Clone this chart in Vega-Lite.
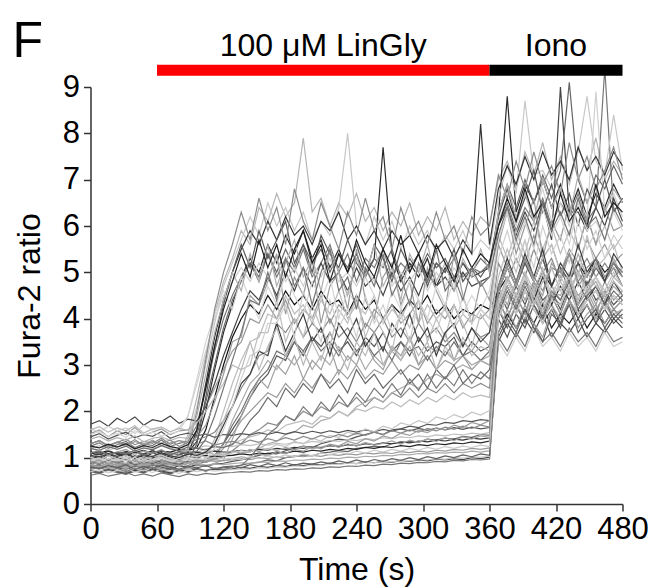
{
"$schema":"https://vega.github.io/schema/vega-lite/v6.json",
"width":532,"height":417,
"autosize":"none",
"padding":{"left":90.5,"top":87,"right":40.5,"bottom":83},
"config":{"view":{"stroke":null},"font":"Liberation Sans","text":{"font":"Liberation Sans"},
"axis":{"grid":false,"labelFontSize":31,"titleFontSize":32,"titleFontWeight":"normal","labelColor":"#000","titleColor":"#000","labelFont":"Liberation Sans","titleFont":"Liberation Sans","domainColor":"#333","tickColor":"#333","domainWidth":1.5,"tickWidth":1.5,"tickSize":7},
"axisX":{"labelPadding":3,"titlePadding":10,"labelFlush":false},
"axisY":{"labelPadding":4,"titlePadding":16}},
"title":{"text":"F","anchor":"start","frame":"group","fontSize":50,"fontWeight":"normal","color":"#000","font":"Liberation Sans","dx":-78,"offset":0,"dy":37},
"resolve":{"scale":{"color":"independent"}},
"layer":[
{"data":{"values":[
{"time":0,"a":0.82,"b":1.02,"c":1.12,"d":1.25,"e":1.52,"f":0.8,"g":1,"h":1.72,"i":0.9,"j":1.1,"k":0.75,"l":1.3,"m":0.98,"n":0.92,"o":1.62,"p":0.85,"q":0.9,"r":1,"s":0.8,"t":1.1,"u":0.7,"v":0.72,"w":0.9,"x":1,"y":0.62,"z":1.2,"A":0.85,"B":1.45,"C":0.7,"D":1.1,"E":1.3,"F":1,"G":0.9,"H":0.85,"I":1.2,"J":1.5,"K":0.8,"L":1.1,"M":0.8,"N":1,"O":1.05,"P":1.4,"Q":0.75,"R":0.95,"S":1.3,"T":1.25,"U":1.6,"V":0.9,"W":1.1,"X":0.95},
{"time":8,"a":0.78,"b":0.97,"c":1.1,"d":1.32,"e":1.6,"f":0.76,"g":1.06,"h":1.8,"i":0.86,"j":1.04,"k":0.7,"l":1.36,"m":1.03,"n":0.88,"o":1.55,"p":0.81,"q":0.85,"r":0.96,"s":0.77,"t":1.15,"u":0.66,"v":0.68,"w":0.95,"x":1.05,"y":0.66,"z":1.26,"A":0.81,"B":1.52,"C":0.74,"D":1.06,"E":1.36,"F":0.95,"G":0.86,"H":0.89,"I":1.16,"J":1.56,"K":0.84,"L":1.16,"M":0.76,"N":1.05,"O":1.01,"P":1.46,"Q":0.79,"R":0.91,"S":1.37,"T":1.21,"U":1.67,"V":0.94,"W":1.14,"X":0.99},
{"time":16,"a":0.86,"b":1.08,"c":1.15,"d":1.2,"e":1.45,"f":0.84,"g":0.95,"h":1.68,"i":0.94,"j":1.14,"k":0.79,"l":1.25,"m":0.95,"n":0.95,"o":1.68,"p":0.89,"q":0.93,"r":1.04,"s":0.83,"t":1.06,"u":0.73,"v":0.75,"w":0.87,"x":0.97,"y":0.6,"z":1.16,"A":0.88,"B":1.4,"C":0.67,"D":1.14,"E":1.27,"F":1.04,"G":0.93,"H":0.82,"I":1.24,"J":1.46,"K":0.77,"L":1.05,"M":0.83,"N":0.96,"O":1.09,"P":1.36,"Q":0.72,"R":0.99,"S":1.25,"T":1.29,"U":1.55,"V":0.86,"W":1.06,"X":0.91},
{"time":24,"a":0.8,"b":1,"c":1.08,"d":1.28,"e":1.58,"f":0.79,"g":1.03,"h":1.85,"i":0.88,"j":1.07,"k":0.73,"l":1.33,"m":1.01,"n":0.9,"o":1.58,"p":0.84,"q":0.88,"r":0.98,"s":0.79,"t":1.12,"u":0.68,"v":0.7,"w":0.92,"x":1.02,"y":0.64,"z":1.23,"A":0.83,"B":1.48,"C":0.72,"D":1.08,"E":1.33,"F":0.98,"G":0.88,"H":0.87,"I":1.18,"J":1.53,"K":0.82,"L":1.12,"M":0.78,"N":1.03,"O":1.03,"P":1.43,"Q":0.77,"R":0.93,"S":1.34,"T":1.23,"U":1.64,"V":0.92,"W":1.12,"X":0.97},
{"time":32,"a":0.75,"b":0.94,"c":1.13,"d":1.35,"e":1.5,"f":0.73,"g":0.98,"h":1.75,"i":0.83,"j":1.12,"k":0.68,"l":1.4,"m":0.97,"n":0.86,"o":1.64,"p":0.79,"q":0.84,"r":0.94,"s":0.75,"t":1.17,"u":0.64,"v":0.66,"w":0.97,"x":1.07,"y":0.68,"z":1.28,"A":0.79,"B":1.55,"C":0.76,"D":1.04,"E":1.24,"F":1.06,"G":0.95,"H":0.8,"I":1.25,"J":1.44,"K":0.75,"L":1.18,"M":0.85,"N":0.98,"O":1.1,"P":1.38,"Q":0.7,"R":1,"S":1.28,"T":1.3,"U":1.58,"V":0.88,"W":1.08,"X":0.93},
{"time":40,"a":0.84,"b":1.05,"c":1.11,"d":1.22,"e":1.65,"f":0.82,"g":1.08,"h":1.88,"i":0.92,"j":1.02,"k":0.77,"l":1.28,"m":1.05,"n":0.94,"o":1.52,"p":0.87,"q":0.91,"r":1.03,"s":0.82,"t":1.08,"u":0.71,"v":0.73,"w":0.89,"x":0.99,"y":0.61,"z":1.18,"A":0.86,"B":1.43,"C":0.69,"D":1.12,"E":1.35,"F":0.94,"G":0.84,"H":0.88,"I":1.14,"J":1.58,"K":0.83,"L":1.07,"M":0.74,"N":1.07,"O":0.99,"P":1.47,"Q":0.78,"R":0.89,"S":1.39,"T":1.19,"U":1.69,"V":0.96,"W":1.16,"X":1.01},
{"time":48,"a":0.79,"b":0.99,"c":1.16,"d":1.3,"e":1.48,"f":0.77,"g":0.96,"h":1.7,"i":0.87,"j":1.09,"k":0.72,"l":1.35,"m":0.93,"n":0.89,"o":1.7,"p":0.82,"q":0.87,"r":0.97,"s":0.78,"t":1.14,"u":0.67,"v":0.69,"w":0.94,"x":1.04,"y":0.65,"z":1.25,"A":0.82,"B":1.5,"C":0.73,"D":1.07,"E":1.29,"F":1.02,"G":0.91,"H":0.84,"I":1.21,"J":1.49,"K":0.79,"L":1.14,"M":0.81,"N":0.95,"O":1.06,"P":1.34,"Q":0.74,"R":0.96,"S":1.26,"T":1.26,"U":1.53,"V":0.85,"W":1.05,"X":0.9},
{"time":56,"a":0.88,"b":1.1,"c":1.09,"d":1.26,"e":1.55,"f":0.85,"g":1.04,"h":1.82,"i":0.95,"j":1.15,"k":0.8,"l":1.31,"m":1,"n":0.97,"o":1.6,"p":0.9,"q":0.94,"r":1.05,"s":0.84,"t":1.1,"u":0.74,"v":0.76,"w":0.88,"x":0.98,"y":0.6,"z":1.19,"A":0.89,"B":1.46,"C":0.68,"D":1.15,"E":1.38,"F":0.97,"G":0.87,"H":0.9,"I":1.17,"J":1.55,"K":0.85,"L":1.09,"M":0.77,"N":1.02,"O":1.02,"P":1.42,"Q":0.8,"R":0.92,"S":1.35,"T":1.22,"U":1.62,"V":0.91,"W":1.11,"X":0.96},
{"time":64,"a":0.83,"b":1.03,"c":1.14,"d":1.38,"e":1.62,"f":0.8,"g":1.01,"h":1.78,"i":0.89,"j":1.06,"k":0.74,"l":1.42,"m":1.04,"n":0.91,"o":1.66,"p":0.86,"q":0.89,"r":1,"s":0.8,"t":1.18,"u":0.69,"v":0.71,"w":0.96,"x":1.06,"y":0.67,"z":1.27,"A":0.84,"B":1.56,"C":0.75,"D":1.09,"E":1.26,"F":1.05,"G":0.94,"H":0.81,"I":1.26,"J":1.47,"K":0.76,"L":1.17,"M":0.84,"N":1.06,"O":1.11,"P":1.45,"Q":0.71,"R":1.01,"S":1.31,"T":1.31,"U":1.66,"V":0.95,"W":1.15,"X":1},
{"time":72,"a":0.9,"b":0.96,"c":1.12,"d":1.24,"e":1.5,"f":0.74,"g":0.97,"h":1.9,"i":0.84,"j":1.11,"k":0.69,"l":1.29,"m":0.96,"n":0.87,"o":1.56,"p":0.8,"q":0.85,"r":0.95,"s":0.76,"t":1.07,"u":0.65,"v":0.67,"w":0.91,"x":1.01,"y":0.63,"z":1.21,"A":0.8,"B":1.42,"C":0.71,"D":1.05,"E":1.32,"F":0.99,"G":0.89,"H":0.86,"I":1.19,"J":1.52,"K":0.81,"L":1.04,"M":0.79,"N":0.97,"O":1.04,"P":1.37,"Q":0.76,"R":0.94,"S":1.38,"T":1.24,"U":1.56,"V":0.87,"W":1.07,"X":0.92},
{"time":80,"a":1.05,"b":1.07,"c":1.18,"d":1.31,"e":1.58,"f":0.83,"g":1.09,"h":1.74,"i":0.93,"j":1.05,"k":0.78,"l":1.37,"m":1.02,"n":0.95,"o":1.65,"p":0.88,"q":0.92,"r":1.02,"s":0.83,"t":1.13,"u":0.72,"v":0.74,"w":0.86,"x":0.96,"y":0.59,"z":1.15,"A":0.87,"B":1.49,"C":0.66,"D":1.13,"E":1.37,"F":0.93,"G":0.85,"H":0.83,"I":1.15,"J":1.57,"K":0.86,"L":1.11,"M":0.75,"N":1.04,"O":1,"P":1.44,"Q":0.73,"R":0.9,"S":1.24,"T":1.2,"U":1.63,"V":0.93,"W":1.13,"X":0.98},
{"time":88,"a":1.5,"b":1.12,"c":1.15,"d":1.36,"e":1.6,"f":0.78,"g":1.4,"h":1.83,"i":0.88,"j":1.13,"k":0.73,"l":1.33,"m":1.07,"n":0.9,"o":1.9,"p":0.83,"q":0.88,"r":0.98,"s":0.79,"t":1.16,"u":0.68,"v":0.7,"w":0.93,"x":1.03,"y":0.65,"z":1.24,"A":0.83,"B":1.53,"C":0.73,"D":1.08,"E":1.28,"F":1.03,"G":0.92,"H":0.89,"I":1.23,"J":1.9,"K":1.2,"L":1.15,"M":0.82,"N":0.99,"O":1.08,"P":1.41,"Q":0.79,"R":0.98,"S":1.33,"T":1.28,"U":1.59,"V":0.89,"W":1.09,"X":0.94},
{"time":96,"a":2.3,"b":1.35,"c":1.22,"d":1.7,"e":1.8,"f":0.86,"g":2.1,"h":1.79,"i":0.96,"j":1.5,"k":0.81,"l":1.39,"m":1.6,"n":0.98,"o":2.6,"p":0.91,"q":0.95,"r":1.06,"s":0.85,"t":1.11,"u":0.75,"v":0.77,"w":0.9,"x":1,"y":0.62,"z":1.2,"A":0.88,"B":1.47,"C":0.7,"D":1.12,"E":1.45,"F":1.01,"G":1.3,"H":0.85,"I":1.2,"J":2.7,"K":2,"L":1.08,"M":0.78,"N":1.05,"O":1.05,"P":1.9,"Q":0.75,"R":0.95,"S":1.29,"T":1.6,"U":1.75,"V":0.94,"W":1.14,"X":0.99},
{"time":104,"a":3.2,"b":2,"c":1.6,"d":2.5,"e":2.1,"f":0.92,"g":3,"h":2.1,"i":0.91,"j":2.2,"k":1,"l":1.45,"m":2.6,"n":0.93,"o":3.3,"p":0.96,"q":0.9,"r":1.01,"s":0.81,"t":1.19,"u":0.71,"v":0.72,"w":0.95,"x":1.05,"y":0.66,"z":1.26,"A":0.84,"B":1.51,"C":0.74,"D":1.1,"E":1.7,"F":1.1,"G":2.3,"H":0.82,"I":1.17,"J":3.5,"K":3.1,"L":1.13,"M":0.83,"N":1.01,"O":1.12,"P":2.8,"Q":0.72,"R":0.97,"S":1.36,"T":2.5,"U":2,"V":0.9,"W":1.4,"X":0.95},
{"time":112,"a":4.1,"b":2.9,"c":2.3,"d":3.3,"e":2.5,"f":1.05,"g":3.9,"h":2.6,"i":0.99,"j":3,"k":1.4,"l":1.55,"m":3.6,"n":1,"o":4,"p":1.05,"q":0.97,"r":1.04,"s":0.86,"t":1.15,"u":0.76,"v":0.75,"w":0.92,"x":1.02,"y":0.64,"z":1.22,"A":0.86,"B":1.44,"C":0.71,"D":1.14,"E":2.2,"F":1.3,"G":3.4,"H":0.88,"I":1.24,"J":4.1,"K":4.2,"L":1.06,"M":0.76,"N":1.08,"O":1.3,"P":3.7,"Q":0.78,"R":1.2,"S":1.27,"T":3.4,"U":2.3,"V":0.96,"W":1.9,"X":1.01},
{"time":120,"a":4.8,"b":3.7,"c":3,"d":4,"e":2.9,"f":1.3,"g":4.7,"h":3.2,"i":1.3,"j":3.8,"k":2,"l":1.8,"m":4.4,"n":1.2,"o":4.5,"p":1.3,"q":1.02,"r":1.08,"s":0.88,"t":1.22,"u":0.78,"v":0.74,"w":0.94,"x":1.04,"y":0.67,"z":1.25,"A":0.85,"B":1.5,"C":0.73,"D":1.12,"E":2.8,"F":1.8,"G":4.3,"H":0.95,"I":1.22,"J":4.6,"K":5,"L":1.12,"M":0.8,"N":1.04,"O":1.7,"P":4.4,"Q":0.74,"R":1.6,"S":1.32,"T":4.2,"U":2.6,"V":0.93,"W":2.5,"X":0.97},
{"time":128,"a":5.3,"b":4.3,"c":3.6,"d":4.5,"e":3.3,"f":1.6,"g":5.2,"h":3.7,"i":1.8,"j":4.4,"k":2.6,"l":2.1,"m":5,"n":1.5,"o":4.8,"p":1.7,"q":1.15,"r":1.05,"s":0.92,"t":1.3,"u":0.8,"v":0.76,"w":0.95,"x":1.05,"y":0.68,"z":1.24,"A":0.87,"B":1.48,"C":0.74,"D":1.13,"E":3.5,"F":2.3,"G":5,"H":1.4,"I":1.28,"J":4.2,"K":5.6,"L":1.14,"M":0.82,"N":1.1,"O":2.1,"P":5,"Q":0.8,"R":2.1,"S":1.35,"T":4.8,"U":3,"V":0.98,"W":3.1,"X":0.99},
{"time":136,"a":5.9,"b":4.9,"c":4,"d":4.9,"e":3.5,"f":1.9,"g":5.7,"h":4.2,"i":2.2,"j":4.8,"k":3.1,"l":2.5,"m":5.5,"n":1.8,"o":5.1,"p":2,"q":1.3,"r":1.1,"s":0.95,"t":1.38,"u":0.84,"v":0.79,"w":0.98,"x":1.08,"y":0.7,"z":1.28,"A":0.89,"B":1.52,"C":0.76,"D":1.16,"E":3.6,"F":2.9,"G":5.6,"H":1.9,"I":1.5,"J":4.9,"K":6.3,"L":1.1,"M":0.78,"N":1.15,"O":2.6,"P":4.6,"Q":0.83,"R":2.7,"S":1.3,"T":5.4,"U":2.9,"V":1.02,"W":3.7,"X":0.96},
{"time":144,"a":5.6,"b":5.3,"c":4.3,"d":5.2,"e":4,"f":2.3,"g":6.2,"h":4.6,"i":2.6,"j":5.2,"k":3.5,"l":2.8,"m":5.9,"n":2,"o":4.8,"p":2.4,"q":1.5,"r":1.12,"s":1,"t":1.45,"u":0.88,"v":0.77,"w":0.96,"x":1.06,"y":0.69,"z":1.26,"A":0.88,"B":1.49,"C":0.75,"D":1.14,"E":4.5,"F":3,"G":5.1,"H":2.3,"I":1.8,"J":4.4,"K":5.7,"L":1.18,"M":0.85,"N":1.12,"O":2.8,"P":5.4,"Q":1,"R":3.2,"S":1.38,"T":4.9,"U":3.5,"V":0.99,"W":4.4,"X":1.02},
{"time":152,"a":6.4,"b":5,"c":4.1,"d":4.8,"e":3.9,"f":2.6,"g":5.8,"h":4.4,"i":2.8,"j":4.9,"k":3.6,"l":3.2,"m":5.6,"n":2.2,"o":5.2,"p":2.7,"q":1.6,"r":1.2,"s":1.05,"t":1.5,"u":0.9,"v":0.81,"w":1,"x":1.1,"y":0.72,"z":1.3,"A":0.91,"B":1.54,"C":0.78,"D":1.18,"E":4.3,"F":3.7,"G":5.9,"H":2.7,"I":2,"J":4,"K":6.6,"L":1.13,"M":0.81,"N":1.22,"O":3.3,"P":4.8,"Q":1.25,"R":3.3,"S":1.33,"T":5.7,"U":2.9,"V":1.08,"W":4.3,"X":0.98},
{"time":160,"a":6.1,"b":5.6,"c":4.5,"d":5.4,"e":4.3,"f":2.8,"g":6.5,"h":4.9,"i":3.1,"j":5.4,"k":4.1,"l":3.3,"m":6.1,"n":2.4,"o":4.9,"p":2.9,"q":1.75,"r":1.3,"s":1.1,"t":1.6,"u":0.95,"v":0.79,"w":0.98,"x":1.08,"y":0.71,"z":1.27,"A":0.9,"B":1.5,"C":0.77,"D":1.16,"E":4.8,"F":3.7,"G":5.3,"H":2.5,"I":2.3,"J":4.7,"K":5.9,"L":1.2,"M":0.87,"N":1.18,"O":3.2,"P":5.6,"Q":1.5,"R":3.9,"S":1.41,"T":5.1,"U":3.4,"V":1.04,"W":5,"X":1.04},
{"time":168,"a":6.7,"b":5.2,"c":4.2,"d":4.9,"e":4,"f":3.2,"g":6,"h":4.5,"i":2.9,"j":5,"k":4,"l":3.9,"m":5.7,"n":2.3,"o":5.3,"p":3.3,"q":1.7,"r":1.35,"s":1.08,"t":1.55,"u":0.93,"v":0.83,"w":1.02,"x":1.12,"y":0.74,"z":1.31,"A":0.93,"B":1.55,"C":0.8,"D":1.2,"E":5.4,"F":4.4,"G":5.7,"H":3,"I":2.1,"J":4.3,"K":6.4,"L":1.15,"M":0.83,"N":1.28,"O":3.9,"P":4.7,"Q":1.65,"R":3.9,"S":1.36,"T":5.6,"U":3.8,"V":1.13,"W":4.4,"X":1},
{"time":176,"a":6.2,"b":5.8,"c":4.6,"d":5.3,"e":4.4,"f":3.1,"g":6.4,"h":5,"i":3.2,"j":5.5,"k":4.5,"l":3.7,"m":6.2,"n":2.6,"o":4.8,"p":3.2,"q":1.9,"r":1.5,"s":1.15,"t":1.7,"u":1,"v":0.81,"w":1,"x":1.1,"y":0.73,"z":1.29,"A":0.92,"B":1.51,"C":0.79,"D":1.18,"E":4.1,"F":3.5,"G":6.1,"H":2.8,"I":2.5,"J":5,"K":5.6,"L":1.22,"M":0.89,"N":1.24,"O":3.3,"P":5.2,"Q":1.9,"R":4.3,"S":1.43,"T":4.9,"U":3.2,"V":1.09,"W":5.3,"X":1.06},
{"time":184,"a":6.5,"b":5.4,"c":4.3,"d":5,"e":3.9,"f":3.5,"g":5.9,"h":4.6,"i":3,"j":5.1,"k":4.1,"l":4,"m":5.8,"n":2.4,"o":5.1,"p":3.5,"q":1.8,"r":1.55,"s":1.2,"t":1.75,"u":1.02,"v":0.85,"w":1.04,"x":1.14,"y":0.76,"z":1.33,"A":0.95,"B":1.56,"C":0.82,"D":1.22,"E":4.9,"F":4,"G":5.2,"H":3.2,"I":2.3,"J":4.5,"K":6.8,"L":1.17,"M":0.84,"N":1.35,"O":3.7,"P":5.7,"Q":1.8,"R":3.6,"S":1.38,"T":5.5,"U":3.6,"V":1.18,"W":4.7,"X":1.02},
{"time":192,"a":7.9,"b":5.9,"c":4.5,"d":5.5,"e":4.2,"f":3.2,"g":6.3,"h":5.1,"i":3.3,"j":5.6,"k":4.3,"l":3.6,"m":6,"n":2.7,"o":4.7,"p":3.3,"q":2,"r":1.7,"s":1.25,"t":1.8,"u":1.06,"v":0.83,"w":1.02,"x":1.12,"y":0.75,"z":1.31,"A":0.94,"B":1.52,"C":0.81,"D":1.2,"E":4.5,"F":3.6,"G":5.6,"H":2.7,"I":2.6,"J":4.1,"K":6.1,"L":1.25,"M":0.88,"N":1.3,"O":4.1,"P":4.9,"Q":2.1,"R":4.6,"S":1.46,"T":5.9,"U":3,"V":1.14,"W":5.1,"X":1.08},
{"time":200,"a":6.3,"b":5.3,"c":4.2,"d":4.9,"e":4,"f":3.6,"g":5.7,"h":4.7,"i":2.9,"j":5.2,"k":3.9,"l":3.9,"m":5.6,"n":2.5,"o":5.2,"p":3.6,"q":1.9,"r":1.65,"s":1.22,"t":1.72,"u":1.04,"v":0.86,"w":1.05,"x":1.16,"y":0.78,"z":1.35,"A":0.97,"B":1.57,"C":0.84,"D":1.24,"E":5.3,"F":4.3,"G":5,"H":3.1,"I":2.4,"J":4.8,"K":5.7,"L":1.19,"M":0.86,"N":1.42,"O":3.5,"P":5.3,"Q":1.9,"R":4,"S":1.4,"T":5.2,"U":3.5,"V":1.24,"W":4.3,"X":1.04},
{"time":208,"a":6.6,"b":5.7,"c":4.6,"d":5.2,"e":4.5,"f":3.4,"g":6.1,"h":5.2,"i":3.2,"j":5.5,"k":4.4,"l":3.7,"m":6.1,"n":2.8,"o":4.9,"p":3.3,"q":2.1,"r":1.8,"s":1.3,"t":1.9,"u":1.1,"v":0.84,"w":1.03,"x":1.14,"y":0.77,"z":1.33,"A":0.96,"B":1.53,"C":0.83,"D":1.22,"E":3.9,"F":3.8,"G":5.8,"H":2.9,"I":2.8,"J":4.4,"K":6.5,"L":1.23,"M":0.91,"N":1.36,"O":3.8,"P":4.6,"Q":2.2,"R":3.5,"S":1.48,"T":5.6,"U":3.1,"V":1.19,"W":5,"X":1.1},
{"time":216,"a":6,"b":5.1,"c":4.3,"d":5.6,"e":3.9,"f":3.7,"g":5.8,"h":4.8,"i":3,"j":5,"k":4.1,"l":4,"m":5.9,"n":2.6,"o":5.3,"p":3.5,"q":2,"r":1.85,"s":1.35,"t":1.85,"u":1.12,"v":0.88,"w":1.07,"x":1.18,"y":0.8,"z":1.37,"A":0.99,"B":1.58,"C":0.86,"D":1.26,"E":4.7,"F":3.4,"G":5.4,"H":3.4,"I":2.5,"J":4.9,"K":6,"L":1.28,"M":0.87,"N":1.48,"O":3.2,"P":5.5,"Q":2,"R":4.4,"S":1.43,"T":4.8,"U":3.7,"V":1.29,"W":5.5,"X":1.06},
{"time":224,"a":6.5,"b":5.5,"c":4.4,"d":5,"e":4.3,"f":3.3,"g":6.4,"h":5,"i":3.4,"j":5.4,"k":4.6,"l":3.6,"m":6.3,"n":2.9,"o":4.8,"p":3.2,"q":2.2,"r":2,"s":1.4,"t":2,"u":1.15,"v":0.86,"w":1.05,"x":1.16,"y":0.79,"z":1.35,"A":0.98,"B":1.54,"C":0.85,"D":1.24,"E":5,"F":4.2,"G":5.1,"H":2.8,"I":2.7,"J":4,"K":5.5,"L":1.22,"M":0.93,"N":1.44,"O":3.9,"P":5,"Q":2.35,"R":3.8,"S":1.5,"T":5.4,"U":3.3,"V":1.25,"W":4.6,"X":1.12},
{"time":232,"a":6.2,"b":5,"c":4.1,"d":5.4,"e":4.1,"f":3.5,"g":8,"h":4.6,"i":3.1,"j":5.1,"k":4,"l":3.8,"m":5.7,"n":2.7,"o":5,"p":3.6,"q":2.1,"r":1.9,"s":1.38,"t":1.9,"u":1.13,"v":0.89,"w":1.08,"x":1.2,"y":0.82,"z":1.39,"A":1.01,"B":1.59,"C":0.88,"D":1.28,"E":4.2,"F":3.9,"G":5.7,"H":3.2,"I":2.4,"J":4.6,"K":6.3,"L":1.3,"M":0.89,"N":1.55,"O":3.6,"P":4.5,"Q":2.1,"R":4.2,"S":1.45,"T":5,"U":2.9,"V":1.35,"W":4.9,"X":1.08},
{"time":240,"a":6.7,"b":5.4,"c":4.5,"d":4.8,"e":4.4,"f":3.2,"g":6,"h":5.1,"i":3.3,"j":5.6,"k":4.3,"l":3.5,"m":6,"n":3,"o":4.7,"p":3.3,"q":2.3,"r":2.1,"s":1.45,"t":2.05,"u":1.2,"v":0.87,"w":1.06,"x":1.18,"y":0.81,"z":1.37,"A":1,"B":1.55,"C":0.87,"D":1.26,"E":5.5,"F":4.5,"G":5.2,"H":3,"I":2.9,"J":4.3,"K":5.8,"L":1.25,"M":0.95,"N":1.5,"O":4,"P":5.3,"Q":2.4,"R":3.6,"S":1.53,"T":5.7,"U":3.5,"V":1.3,"W":4.2,"X":1.14},
{"time":248,"a":6.1,"b":4.9,"c":4.2,"d":5.3,"e":3.8,"f":3.6,"g":5.6,"h":4.7,"i":2.9,"j":5,"k":4.1,"l":3.9,"m":5.6,"n":2.7,"o":5.1,"p":3.5,"q":2.1,"r":2.2,"s":1.5,"t":2,"u":1.22,"v":0.91,"w":1.1,"x":1.22,"y":0.84,"z":1.41,"A":1.03,"B":1.6,"C":0.9,"D":1.3,"E":4.4,"F":3.6,"G":4.9,"H":3.5,"I":2.6,"J":4.9,"K":6.6,"L":1.33,"M":0.9,"N":1.62,"O":3.4,"P":4.9,"Q":2.2,"R":4.5,"S":1.48,"T":5.2,"U":3.2,"V":1.41,"W":5.1,"X":1.1},
{"time":256,"a":6.4,"b":5.3,"c":4.4,"d":5.1,"e":4.2,"f":3.4,"g":6.2,"h":4.9,"i":3.2,"j":5.3,"k":4.5,"l":3.7,"m":5.9,"n":2.9,"o":4.8,"p":3.2,"q":2.3,"r":2.3,"s":1.55,"t":2.1,"u":1.25,"v":0.89,"w":1.08,"x":1.2,"y":0.83,"z":1.39,"A":1.02,"B":1.56,"C":0.89,"D":1.28,"E":4,"F":4.1,"G":5.6,"H":3.1,"I":2.8,"J":4.5,"K":5.9,"L":1.27,"M":0.96,"N":1.56,"O":3.7,"P":5.6,"Q":2.5,"R":3.9,"S":1.55,"T":4.9,"U":3.7,"V":1.36,"W":4.7,"X":1.16},
{"time":264,"a":5.9,"b":7.7,"c":4,"d":5.5,"e":4,"f":3.7,"g":5.7,"h":4.5,"i":3,"j":5.1,"k":3.9,"l":4,"m":5.5,"n":2.8,"o":5.2,"p":3.4,"q":2.2,"r":2.2,"s":1.5,"t":2.05,"u":1.23,"v":0.92,"w":1.11,"x":1.24,"y":0.86,"z":1.43,"A":1.05,"B":1.61,"C":0.92,"D":1.32,"E":4.9,"F":3.7,"G":5.3,"H":2.9,"I":2.5,"J":3.9,"K":6.2,"L":1.31,"M":0.92,"N":1.68,"O":3.3,"P":4.7,"Q":2.3,"R":4.3,"S":1.5,"T":5.5,"U":3,"V":1.47,"W":5.4,"X":1.12},
{"time":272,"a":6.3,"b":5.4,"c":4.3,"d":4.9,"e":4.3,"f":3.3,"g":6.1,"h":5,"i":3.3,"j":5.5,"k":4.2,"l":3.6,"m":5.9,"n":3.1,"o":4.7,"p":3.1,"q":2.4,"r":2.4,"s":1.6,"t":2.2,"u":1.3,"v":0.9,"w":1.09,"x":1.22,"y":0.85,"z":1.41,"A":1.04,"B":1.57,"C":0.91,"D":1.3,"E":5.2,"F":3.3,"G":4.8,"H":3.4,"I":2.7,"J":4.6,"K":5.5,"L":1.36,"M":0.98,"N":1.62,"O":3.9,"P":5.1,"Q":2.6,"R":3.7,"S":1.58,"T":5.1,"U":3.4,"V":1.42,"W":4.5,"X":1.18},
{"time":280,"a":6,"b":4.8,"c":4.1,"d":5.2,"e":3.9,"f":3.5,"g":5.5,"h":4.6,"i":3.1,"j":4.9,"k":4,"l":3.8,"m":5.6,"n":2.8,"o":5,"p":3.5,"q":2.3,"r":2.5,"s":1.62,"t":2.1,"u":1.32,"v":0.94,"w":1.13,"x":1.26,"y":0.88,"z":1.45,"A":1.07,"B":1.62,"C":0.94,"D":1.34,"E":4.3,"F":4.2,"G":5.5,"H":3.2,"I":2.9,"J":4.2,"K":6.4,"L":1.29,"M":0.94,"N":1.75,"O":3.6,"P":4.4,"Q":2.35,"R":4.1,"S":1.53,"T":5.8,"U":3.1,"V":1.53,"W":4.9,"X":1.14},
{"time":288,"a":6.5,"b":5.2,"c":4.4,"d":5,"e":4.1,"f":3.2,"g":6,"h":4.9,"i":3.4,"j":5.3,"k":4.4,"l":3.5,"m":5.8,"n":3,"o":4.8,"p":3.3,"q":2.5,"r":2.6,"s":1.68,"t":2.25,"u":1.35,"v":0.92,"w":1.11,"x":1.24,"y":0.87,"z":1.43,"A":1.06,"B":1.58,"C":0.93,"D":1.32,"E":4.8,"F":3.8,"G":5.1,"H":3.6,"I":2.6,"J":4.8,"K":5.8,"L":1.38,"M":1,"N":1.7,"O":4.1,"P":5.4,"Q":2.7,"R":3.5,"S":1.6,"T":5,"U":3.6,"V":1.48,"W":4.3,"X":1.2},
{"time":296,"a":5.8,"b":4.9,"c":4.2,"d":5.4,"e":4.4,"f":3.6,"g":5.6,"h":4.5,"i":3,"j":5,"k":3.9,"l":3.9,"m":5.4,"n":2.9,"o":5.1,"p":3.4,"q":2.3,"r":2.5,"s":1.65,"t":2.15,"u":1.33,"v":0.95,"w":1.14,"x":1.28,"y":0.9,"z":1.47,"A":1.09,"B":1.63,"C":0.96,"D":1.36,"E":3.9,"F":4.4,"G":5.4,"H":3,"I":2.8,"J":4.4,"K":6.1,"L":1.33,"M":0.96,"N":1.8,"O":3.5,"P":5,"Q":2.45,"R":4.4,"S":1.55,"T":5.4,"U":3.2,"V":1.59,"W":5.2,"X":1.16},
{"time":304,"a":6.2,"b":5.3,"c":4.5,"d":4.8,"e":3.9,"f":3.3,"g":5.9,"h":5,"i":3.2,"j":5.4,"k":4.3,"l":3.6,"m":5.8,"n":3.2,"o":4.6,"p":3.1,"q":2.5,"r":2.7,"s":1.72,"t":2.3,"u":1.4,"v":0.93,"w":1.12,"x":1.26,"y":0.89,"z":1.45,"A":1.08,"B":1.59,"C":0.95,"D":1.34,"E":5.1,"F":3.5,"G":4.7,"H":3.4,"I":2.5,"J":4,"K":5.6,"L":1.4,"M":1.02,"N":1.74,"O":3.8,"P":5.6,"Q":2.8,"R":4,"S":1.63,"T":4.9,"U":3.5,"V":1.54,"W":4.8,"X":1.22},
{"time":312,"a":5.9,"b":4.7,"c":4.1,"d":5.2,"e":4.2,"f":3.5,"g":5.4,"h":4.7,"i":2.9,"j":5.1,"k":4,"l":3.8,"m":5.5,"n":2.9,"o":5,"p":3.4,"q":2.4,"r":2.8,"s":1.7,"t":2.2,"u":1.38,"v":0.97,"w":1.16,"x":1.3,"y":0.92,"z":1.49,"A":1.11,"B":1.64,"C":0.98,"D":1.38,"E":4.6,"F":4,"G":5.2,"H":3.3,"I":2.9,"J":4.7,"K":6.3,"L":1.35,"M":0.98,"N":1.88,"O":3.2,"P":4.8,"Q":2.5,"R":3.7,"S":1.58,"T":5.6,"U":2.9,"V":1.64,"W":5.5,"X":1.18},
{"time":320,"a":6.4,"b":5.1,"c":4.3,"d":5,"e":4,"f":3.4,"g":5.8,"h":4.9,"i":3.3,"j":5.3,"k":4.2,"l":3.5,"m":5.7,"n":3.1,"o":4.7,"p":3.2,"q":2.6,"r":2.7,"s":1.76,"t":2.35,"u":1.42,"v":0.95,"w":1.14,"x":1.28,"y":0.91,"z":1.47,"A":1.1,"B":1.6,"C":0.97,"D":1.36,"E":4.2,"F":3.6,"G":5,"H":3.7,"I":2.7,"J":4.3,"K":5.7,"L":1.43,"M":1.04,"N":1.82,"O":3.7,"P":5.2,"Q":2.75,"R":4.3,"S":1.66,"T":5.2,"U":3.4,"V":1.6,"W":4.6,"X":1.24},
{"time":328,"a":5.7,"b":4.8,"c":4,"d":5.3,"e":4.3,"f":3.6,"g":5.5,"h":4.6,"i":3.1,"j":4.9,"k":3.8,"l":3.7,"m":5.3,"n":3,"o":5.1,"p":3.5,"q":2.4,"r":2.9,"s":1.74,"t":2.25,"u":1.4,"v":0.98,"w":1.18,"x":1.32,"y":0.94,"z":1.51,"A":1.12,"B":1.65,"C":1,"D":1.4,"E":5.4,"F":4.3,"G":5.5,"H":3.1,"I":3,"J":4.8,"K":6,"L":1.37,"M":1,"N":1.93,"O":3.9,"P":4.6,"Q":2.55,"R":3.8,"S":1.61,"T":4.8,"U":3.1,"V":1.7,"W":4.9,"X":1.2},
{"time":336,"a":6.1,"b":5.2,"c":4.2,"d":4.9,"e":3.8,"f":3.2,"g":5.9,"h":5,"i":3.2,"j":5.2,"k":4.1,"l":3.4,"m":5.7,"n":3.2,"o":4.8,"p":3.2,"q":2.6,"r":3,"s":1.8,"t":2.4,"u":1.46,"v":0.96,"w":1.16,"x":1.3,"y":0.93,"z":1.49,"A":1.11,"B":1.61,"C":0.99,"D":1.38,"E":4.5,"F":3.9,"G":4.8,"H":3.5,"I":2.6,"J":4.1,"K":5.4,"L":1.45,"M":1.06,"N":1.86,"O":3.4,"P":5.3,"Q":2.9,"R":4.5,"S":1.68,"T":5.5,"U":3.6,"V":1.65,"W":4.4,"X":1.25},
{"time":344,"a":5.8,"b":4.9,"c":4.1,"d":5.1,"e":4.1,"f":3.5,"g":5.4,"h":4.7,"i":3,"j":5,"k":3.9,"l":3.8,"m":5.4,"n":2.9,"o":5,"p":3.3,"q":2.5,"r":2.9,"s":1.78,"t":2.3,"u":1.44,"v":1,"w":1.2,"x":1.34,"y":0.96,"z":1.53,"A":1.14,"B":1.66,"C":1.02,"D":1.42,"E":3.9,"F":3.4,"G":5.1,"H":3.3,"I":2.8,"J":4.5,"K":6.2,"L":1.4,"M":1.02,"N":1.98,"O":3.8,"P":4.9,"Q":2.6,"R":3.9,"S":1.63,"T":5.1,"U":3.2,"V":1.76,"W":5.1,"X":1.22},
{"time":352,"a":6.2,"b":5,"c":4.3,"d":5,"e":4,"f":3.3,"g":5.7,"h":4.8,"i":3.1,"j":5.3,"k":4.2,"l":3.6,"m":8.2,"n":3.1,"o":4.7,"p":3.1,"q":2.6,"r":3.1,"s":1.82,"t":2.35,"u":1.5,"v":0.98,"w":1.18,"x":1.32,"y":0.95,"z":1.51,"A":1.12,"B":1.62,"C":1.01,"D":1.4,"E":4.8,"F":4.1,"G":4.9,"H":3.6,"I":2.7,"J":4.2,"K":5.8,"L":1.47,"M":1.08,"N":1.92,"O":3.5,"P":5.5,"Q":2.85,"R":4.2,"S":1.7,"T":5.4,"U":3.4,"V":1.71,"W":4.7,"X":1.27},
{"time":360,"a":6,"b":5.1,"c":4.2,"d":5.2,"e":4.2,"f":3.4,"g":5.5,"h":4.9,"i":3.2,"j":5.1,"k":4,"l":3.7,"m":5.6,"n":3,"o":4.9,"p":3.3,"q":2.5,"r":3,"s":1.8,"t":2.3,"u":1.48,"v":1.01,"w":1.21,"x":1.36,"y":0.97,"z":1.54,"A":1.15,"B":1.65,"C":1.03,"D":1.43,"E":4.4,"F":3.8,"G":5.2,"H":3.4,"I":2.9,"J":4.6,"K":6,"L":1.44,"M":1.05,"N":2.02,"O":3.7,"P":5,"Q":2.7,"R":4,"S":1.66,"T":5.2,"U":3.3,"V":1.8,"W":4.9,"X":1.24},
{"time":368,"a":7,"b":6.2,"c":4.6,"d":6,"e":5.6,"f":4.6,"g":6.6,"h":6,"i":4.4,"j":6.3,"k":5.8,"l":5.2,"m":6.8,"n":4.7,"o":6.1,"p":4.6,"q":4.4,"r":4.6,"s":4,"t":4.3,"u":4.2,"v":3.5,"w":4.4,"x":3.7,"y":3.6,"z":4.4,"A":4.2,"B":4.6,"C":3.5,"D":4.2,"E":5.6,"F":4.9,"G":6.2,"H":4.6,"I":4.1,"J":5.7,"K":7.1,"L":4.2,"M":3.6,"N":4.3,"O":4.7,"P":6.3,"Q":4,"R":5.3,"S":4.7,"T":6,"U":4.4,"V":3.7,"W":5.8,"X":4},
{"time":376,"a":7.4,"b":8.8,"c":4.9,"d":6.5,"e":5.1,"f":4.2,"g":7.3,"h":6.4,"i":4,"j":6.9,"k":5.3,"l":4.8,"m":7.3,"n":4.3,"o":6.6,"p":5.1,"q":4,"r":5.1,"s":3.6,"t":4.8,"u":3.8,"v":3.9,"w":4,"x":4.1,"y":3.3,"z":4.9,"A":3.9,"B":5.1,"C":3.2,"D":4.7,"E":6.3,"F":5.5,"G":6.8,"H":5.1,"I":4.6,"J":6.3,"K":6.6,"L":4.7,"M":4,"N":4.8,"O":5.3,"P":6.9,"Q":4.5,"R":5.9,"S":5.2,"T":6.6,"U":4.9,"V":4.2,"W":6.4,"X":4.5},
{"time":384,"a":6.8,"b":6.3,"c":4.5,"d":5.9,"e":5.7,"f":4.7,"g":6.7,"h":5.8,"i":4.5,"j":6.4,"k":5.9,"l":5.3,"m":6.9,"n":4.8,"o":6,"p":4.7,"q":4.5,"r":4.7,"s":4.1,"t":4.4,"u":4.3,"v":3.6,"w":4.5,"x":3.8,"y":3.7,"z":4.5,"A":4.3,"B":4.7,"C":3.6,"D":4.3,"E":5.4,"F":5,"G":6.1,"H":4.7,"I":4.2,"J":5.6,"K":7.4,"L":4.3,"M":3.7,"N":4.4,"O":4.8,"P":6.2,"Q":4.1,"R":5.2,"S":4.8,"T":6.1,"U":4.5,"V":3.8,"W":5.7,"X":4.1},
{"time":392,"a":7.6,"b":6.9,"c":4.8,"d":6.4,"e":5.2,"f":4.3,"g":8.7,"h":6.3,"i":4.1,"j":7,"k":5.4,"l":4.9,"m":7.5,"n":4.4,"o":6.7,"p":5.2,"q":4.1,"r":5.2,"s":3.8,"t":4.9,"u":3.9,"v":4,"w":4.1,"x":4.2,"y":3.4,"z":5,"A":4,"B":5.2,"C":3.3,"D":4.8,"E":6,"F":5.7,"G":6.6,"H":5.3,"I":4.7,"J":6.1,"K":6.8,"L":4.8,"M":4.2,"N":4.9,"O":5.4,"P":6.7,"Q":4.6,"R":5.7,"S":5.3,"T":6.8,"U":5,"V":4.3,"W":6.2,"X":4.6},
{"time":400,"a":7.1,"b":6.5,"c":4.6,"d":6.1,"e":5.8,"f":4.8,"g":7.1,"h":5.9,"i":4.6,"j":6.5,"k":6.1,"l":5.5,"m":7,"n":4.8,"o":6.2,"p":4.8,"q":4.7,"r":4.8,"s":4.3,"t":4.5,"u":4.5,"v":3.7,"w":4.7,"x":3.9,"y":3.9,"z":4.6,"A":4.5,"B":4.8,"C":3.8,"D":4.4,"E":6.6,"F":4.8,"G":7.2,"H":4.8,"I":4.3,"J":5.5,"K":7.6,"L":4.4,"M":3.8,"N":4.5,"O":4.9,"P":6.1,"Q":4.2,"R":5.1,"S":4.9,"T":6.2,"U":4.3,"V":3.9,"W":5.6,"X":4.2},
{"time":408,"a":7.8,"b":7,"c":5,"d":6.6,"e":5.3,"f":4.4,"g":7.2,"h":6.5,"i":4.1,"j":7.1,"k":5.5,"l":5,"m":7.6,"n":4.3,"o":6.8,"p":5.3,"q":4.2,"r":5.3,"s":3.9,"t":5,"u":4,"v":4.1,"w":4.2,"x":4.3,"y":3.5,"z":5.1,"A":4.1,"B":5.3,"C":3.4,"D":4.9,"E":5.3,"F":5.3,"G":6.3,"H":4.5,"I":4,"J":6.4,"K":6.9,"L":4.1,"M":3.5,"N":4.2,"O":5.5,"P":7,"Q":3.9,"R":6,"S":4.6,"T":6.5,"U":4.8,"V":3.6,"W":6.5,"X":3.9},
{"time":416,"a":7,"b":6.4,"c":4.7,"d":6,"e":5.6,"f":4.6,"g":6.8,"h":5.7,"i":4.3,"j":6.6,"k":6,"l":5.3,"m":7.1,"n":4.7,"o":6.1,"p":4.7,"q":4.5,"r":4.7,"s":4.2,"t":4.4,"u":4.3,"v":3.6,"w":4.5,"x":3.8,"y":3.7,"z":4.5,"A":4.3,"B":4.7,"C":3.6,"D":4.3,"E":6.1,"F":5.6,"G":6.9,"H":5.2,"I":4.6,"J":5.8,"K":7.3,"L":4.6,"M":4.1,"N":4.7,"O":4.7,"P":6.4,"Q":4.5,"R":5.4,"S":5.1,"T":5.9,"U":5.1,"V":4.2,"W":5.9,"X":4.4},
{"time":424,"a":7.5,"b":6.9,"c":5.1,"d":6.5,"e":5,"f":4.2,"g":7.4,"h":9,"i":3.9,"j":7.2,"k":5.4,"l":4.8,"m":7.4,"n":4.4,"o":6.5,"p":5.1,"q":4.1,"r":5.1,"s":3.8,"t":4.8,"u":3.9,"v":3.9,"w":4.1,"x":4.1,"y":3.4,"z":4.9,"A":4,"B":5.1,"C":3.3,"D":4.7,"E":5.7,"F":5,"G":6.2,"H":4.9,"I":4.4,"J":6.2,"K":6.7,"L":4.5,"M":3.9,"N":4.6,"O":5.2,"P":6.8,"Q":4.3,"R":5.8,"S":5,"T":6.7,"U":4.6,"V":4,"W":6.3,"X":4.3},
{"time":432,"a":6.9,"b":6.3,"c":4.8,"d":6.2,"e":5.5,"f":4.7,"g":6.9,"h":6.3,"i":4.4,"j":9.1,"k":5.9,"l":5.4,"m":7,"n":4.9,"o":6,"p":4.6,"q":4.6,"r":4.8,"s":4.4,"t":4.5,"u":4.4,"v":3.7,"w":4.6,"x":3.9,"y":3.8,"z":4.6,"A":4.4,"B":4.8,"C":3.7,"D":4.4,"E":6.5,"F":5.4,"G":6.7,"H":5.4,"I":4.8,"J":5.6,"K":7.8,"L":4.9,"M":4.3,"N":5,"O":4.9,"P":6.2,"Q":4.7,"R":5.2,"S":5.4,"T":6.1,"U":4.9,"V":4.4,"W":5.8,"X":4.7},
{"time":440,"a":7.7,"b":6.8,"c":5.2,"d":6.7,"e":5.2,"f":4.3,"g":7.6,"h":6.3,"i":4.1,"j":7,"k":5.5,"l":5,"m":7.7,"n":4.5,"o":6.6,"p":5,"q":4.2,"r":5.4,"s":4,"t":5,"u":4,"v":4,"w":4.3,"x":4.2,"y":3.5,"z":5,"A":4.1,"B":5.2,"C":3.4,"D":4.8,"E":5.5,"F":4.9,"G":6,"H":4.7,"I":4.2,"J":6.5,"K":7,"L":4.3,"M":3.7,"N":4.4,"O":5.6,"P":7.1,"Q":4.1,"R":6.1,"S":4.8,"T":6.4,"U":4.4,"V":3.8,"W":6.6,"X":4.1},
{"time":448,"a":7.2,"b":6.2,"c":4.9,"d":6.1,"e":5.7,"f":4.8,"g":8.8,"h":5.9,"i":4.5,"j":6.5,"k":6.2,"l":5.3,"m":7.2,"n":4.7,"o":6.2,"p":4.7,"q":4.5,"r":4.9,"s":4.3,"t":4.6,"u":4.3,"v":3.6,"w":4.6,"x":3.8,"y":3.7,"z":4.5,"A":4.3,"B":4.7,"C":3.6,"D":4.4,"E":6.2,"F":5.8,"G":6.8,"H":5,"I":4.5,"J":5.9,"K":7.5,"L":4.6,"M":4,"N":4.7,"O":5,"P":6.5,"Q":4.4,"R":5.5,"S":5.1,"T":6,"U":5,"V":4.1,"W":6,"X":4.4},
{"time":456,"a":7.9,"b":6.7,"c":5.3,"d":6.4,"e":5.3,"f":4.4,"g":7.4,"h":6.4,"i":4,"j":7.1,"k":5.6,"l":4.9,"m":7.5,"n":4.3,"o":8.9,"p":5.2,"q":4.1,"r":5.2,"s":3.9,"t":4.9,"u":3.9,"v":3.9,"w":4.2,"x":4.1,"y":3.4,"z":4.9,"A":4,"B":5.1,"C":3.3,"D":4.7,"E":5.6,"F":5.1,"G":6.4,"H":5.3,"I":4.7,"J":6.1,"K":6.8,"L":4.8,"M":4.2,"N":4.9,"O":5.3,"P":6.9,"Q":4.6,"R":5.9,"S":5.3,"T":6.9,"U":4.7,"V":4.3,"W":6.2,"X":4.6},
{"time":464,"a":7,"b":6.4,"c":5,"d":9.4,"e":5.6,"f":4.6,"g":7.1,"h":6,"i":4.3,"j":6.8,"k":6,"l":5.2,"m":7.1,"n":4.8,"o":6.3,"p":4.8,"q":4.6,"r":4.8,"s":4.2,"t":4.5,"u":4.4,"v":3.7,"w":4.5,"x":3.9,"y":3.8,"z":4.6,"A":4.4,"B":4.8,"C":3.7,"D":4.3,"E":6.4,"F":5.3,"G":7,"H":4.8,"I":4.3,"J":5.7,"K":7.2,"L":4.4,"M":3.8,"N":4.5,"O":4.8,"P":6.3,"Q":4.2,"R":5.3,"S":4.9,"T":6.2,"U":4.5,"V":3.9,"W":5.7,"X":4.2},
{"time":472,"a":7.4,"b":6.9,"c":5.2,"d":6.3,"e":5.2,"f":4.3,"g":8.4,"h":6.6,"i":4,"j":7.3,"k":5.5,"l":4.9,"m":7.6,"n":4.4,"o":6.7,"p":5.1,"q":4.2,"r":5.3,"s":3.9,"t":4.8,"u":4,"v":4,"w":4.2,"x":4.2,"y":3.5,"z":5,"A":4.1,"B":5.2,"C":3.4,"D":4.8,"E":5.9,"F":5.6,"G":6.3,"H":5.1,"I":4.6,"J":6.3,"K":7.7,"L":4.7,"M":4.1,"N":4.8,"O":5.4,"P":6.8,"Q":4.5,"R":5.8,"S":5.2,"T":6.5,"U":4.9,"V":4.2,"W":6.4,"X":4.5},
{"time":480,"a":7.1,"b":6.5,"c":5,"d":6.6,"e":5.4,"f":4.5,"g":7.2,"h":6.1,"i":4.2,"j":6.9,"k":5.8,"l":5.1,"m":7.3,"n":4.6,"o":6.2,"p":4.7,"q":4.4,"r":4.9,"s":4.1,"t":4.6,"u":4.2,"v":3.8,"w":4.4,"x":4,"y":3.6,"z":4.7,"A":4.2,"B":4.9,"C":3.5,"D":4.5,"E":6,"F":5,"G":6.6,"H":4.9,"I":4.4,"J":5.9,"K":7,"L":4.5,"M":3.9,"N":4.6,"O":5.1,"P":6.5,"Q":4.3,"R":5.5,"S":5,"T":6.3,"U":4.7,"V":4,"W":6,"X":4.3}
]},
"transform":[{"fold":["a","b","c","d","e","f","g","h","i","j","k","l","m","n","o","p","q","r","s","t","u","v","w","x","y","z","A","B","C","D","E","F","G","H","I","J","K","L","M","N","O","P","Q","R","S","T","U","V","W","X"],"as":["cell","ratio"]}],
"mark":{"type":"line","strokeWidth":1.2,"clip":false},
"encoding":{
"x":{"field":"time","type":"quantitative","scale":{"domain":[0,480],"nice":false},"axis":{"values":[0,60,120,180,240,300,360,420,480],"title":"Time (s)"}},
"y":{"field":"ratio","type":"quantitative","scale":{"domain":[0,9],"nice":false},"axis":{"values":[0,1,2,3,4,5,6,7,8,9],"title":"Fura-2 ratio"}},
"color":{"field":"cell","type":"nominal","legend":null,"scale":{"domain":["a","b","c","d","e","f","g","h","i","j","k","l","m","n","o","p","q","r","s","t","u","v","w","x","y","z","A","B","C","D","E","F","G","H","I","J","K","L","M","N","O","P","Q","R","S","T","U","V","W","X"],"range":["#b5b5b5","#2a2a2a","#111111","#777777","#999999","#555555","#c8c8c8","#444444","#aaaaaa","#666666","#bbbbbb","#888888","#333333","#999999","#d0d0d0","#707070","#888888","#aaaaaa","#555555","#bbbbbb","#666666","#444444","#999999","#222222","#777777","#c0c0c0","#aaaaaa","#555555","#cccccc","#333333","#9a9a9a","#bdbdbd","#5a5a5a","#a0a0a0","#6a6a6a","#d5d5d5","#8c8c8c","#a5a5a5","#606060","#c4c4c4","#3c3c3c","#b0b0b0","#7a7a7a","#cfcfcf","#8a8a8a","#1e1e1e","#b8b8b8","#9c9c9c","#747474","#c9c9c9"]}}
}},
{"data":{"values":[{"label":"100 μM LinGly","start":60,"end":360},{"label":"Iono","start":360,"end":480}]},
"transform":[{"calculate":"(datum.start+datum.end)/2","as":"mid"}],
"layer":[
{"mark":{"type":"rule","strokeWidth":11,"clip":false,"strokeCap":"butt"},
"encoding":{"x":{"field":"start","type":"quantitative","scale":{"domain":[0,480],"nice":false}},"x2":{"field":"end"},"y":{"datum":9.36,"type":"quantitative","scale":{"domain":[0,9],"nice":false}},
"color":{"field":"label","type":"nominal","legend":null,"scale":{"domain":["100 μM LinGly","Iono"],"range":["#ff0000","#000000"]}}}},
{"mark":{"type":"text","fontSize":32,"font":"Liberation Sans","color":"#000","baseline":"alphabetic","align":"center","clip":false},
"encoding":{"x":{"field":"mid","type":"quantitative","scale":{"domain":[0,480],"nice":false}},"y":{"datum":9.67,"type":"quantitative","scale":{"domain":[0,9],"nice":false}},"text":{"field":"label"}}}
]}
]
}
